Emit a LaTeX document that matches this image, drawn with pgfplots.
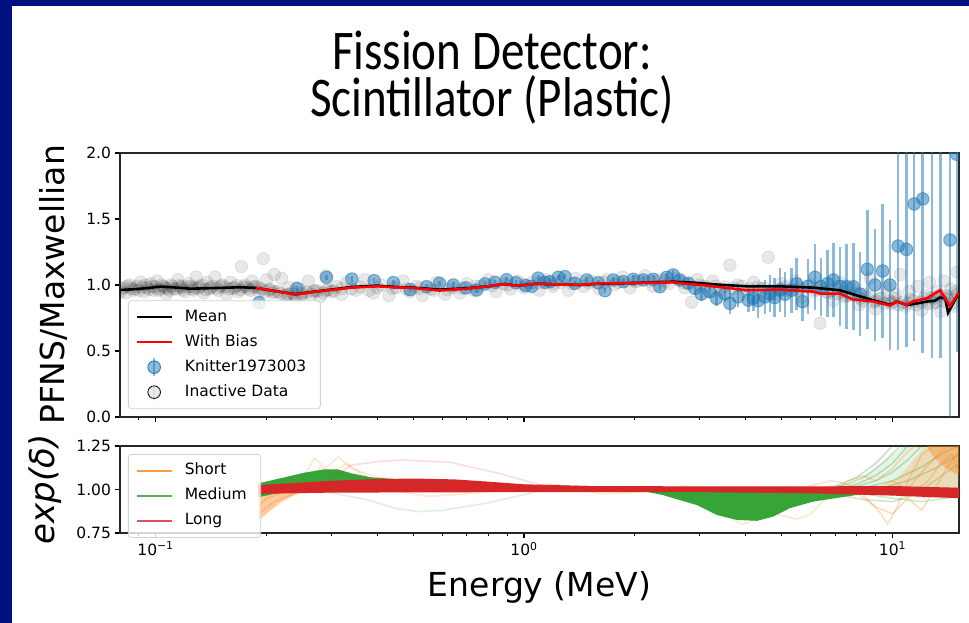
\documentclass[border=0pt]{standalone}
\usepackage{fontspec}
\setmainfont{DejaVu Sans}
\newfontfamily\titlefont{Carlito}
\usepackage{graphicx}
\usepackage{pgfplots}
\usepackage{pgfplotstable}
\pgfplotsset{compat=1.18}

\definecolor{slidebg}{RGB}{0,16,128}
\definecolor{tabblue}{RGB}{31,119,180}
\definecolor{taborange}{RGB}{255,127,14}
\definecolor{tabgreen}{RGB}{44,160,44}
\definecolor{tabred}{RGB}{214,39,40}

% inactive data points
\pgfplotstableread{
x y
0.081 0.97
0.0805 0.95
0.082 0.98
0.083 0.94
0.084 0.99
0.085 1.00
0.086 0.975
0.087 0.96
0.088 0.97
0.089 0.99
0.090 0.96
0.091 1.02
0.092 0.985
0.093 0.95
0.094 1.00
0.095 0.98
0.096 0.965
0.097 1.01
0.098 0.99
0.099 0.96
0.100 0.985
0.101 1.03
0.102 0.96
0.103 0.97
0.104 1.00
0.105 0.99
0.106 0.98
0.107 0.93
0.108 0.975
0.109 0.96
0.110 1.00
0.111 0.99
0.112 0.97
0.114 0.97
0.115 1.04
0.116 0.995
0.117 0.98
0.118 0.99
0.119 0.965
0.120 0.95
0.122 0.985
0.123 1.01
0.125 0.99
0.126 0.97
0.127 0.96
0.128 0.98
0.129 1.06
0.131 0.975
0.132 0.99
0.134 1.00
0.135 0.94
0.137 0.965
0.138 1.02
0.140 0.97
0.141 0.98
0.143 0.99
0.145 1.06
0.147 0.975
0.148 0.96
0.150 0.99
0.152 1.00
0.154 0.985
0.156 0.93
0.158 0.97
0.160 1.02
0.162 0.975
0.164 0.98
0.166 0.995
0.168 0.95
0.170 0.965
0.171 1.14
0.173 0.985
0.175 1.00
0.176 0.985
0.179 0.97
0.181 0.96
0.183 1.03
0.185 0.985
0.187 0.99
0.190 0.98
0.191 0.95
0.194 0.97
0.196 1.20
0.198 0.95
0.200 1.04
0.203 0.96
0.205 0.97
0.208 0.94
0.21 1.08
0.21 0.95
0.215 0.95
0.218 0.935
0.22 1.05
0.225 0.92
0.228 0.925
0.23 0.98
0.23 0.93
0.235 0.94
0.238 0.93
0.24 0.90
0.245 0.97
0.248 0.915
0.25 0.93
0.25 0.94
0.258 0.945
0.26 1.03
0.265 0.93
0.27 0.96
0.27 0.95
0.275 0.955
0.28 0.91
0.285 0.94
0.29 1.07
0.29 0.96
0.295 0.965
0.30 0.95
0.305 0.955
0.31 0.99
0.32 0.93
0.32 0.975
0.33 1.02
0.34 0.97
0.35 0.96
0.36 0.985
0.37 1.04
0.38 0.96
0.39 0.94
0.40 0.98
0.41 1.00
0.43 0.92
0.44 0.975
0.45 0.98
0.47 1.03
0.48 0.97
0.49 0.95
0.51 0.99
0.52 0.975
0.53 0.92
0.56 0.97
0.57 0.96
0.58 1.02
0.61 0.93
0.62 0.965
0.64 0.98
0.67 0.94
0.68 0.975
0.70 1.01
0.73 0.96
0.74 0.99
0.76 0.99
0.80 1.04
0.82 0.995
0.84 0.95
0.88 1.01
0.90 1.00
0.92 0.97
0.96 1.03
1.00 0.98
1.00 1.005
1.05 1.02
1.10 0.96
1.10 1.015
1.15 1.04
1.20 0.99
1.20 1.01
1.26 1.02
1.32 0.96
1.35 1.01
1.38 1.05
1.45 0.99
1.50 1.015
1.52 1.03
1.60 0.97
1.65 1.02
1.68 1.04
1.76 1.00
1.80 1.02
1.85 1.06
1.94 0.98
2.00 1.025
2.03 1.03
2.13 1.07
2.20 1.03
2.24 0.99
2.35 1.04
2.40 1.025
2.47 1.01
2.60 1.05
2.70 1.02
2.73 0.98
2.85 0.87
2.95 1.04
3.00 1.00
3.10 0.99
3.25 1.03
3.30 0.99
3.40 0.96
3.50 0.985
3.62 1.15
3.70 0.975
3.80 1.00
3.90 0.99
4.00 0.95
4.10 0.97
4.20 1.02
4.30 0.985
4.40 0.97
4.50 0.975
4.60 1.21
4.70 0.96
4.80 0.93
5.00 1.01
5.00 0.97
5.10 0.985
5.20 0.96
5.45 1.03
5.50 0.96
5.60 0.975
5.70 0.91
6.00 1.00
6.10 0.95
6.20 0.965
6.36 0.71
6.50 0.97
6.60 0.95
6.70 0.94
6.80 0.955
6.90 0.88
7.10 0.935
7.20 1.02
7.30 0.95
7.40 0.91
7.50 0.92
7.70 0.92
7.80 0.97
8.00 0.935
8.10 0.85
8.20 0.90
8.30 0.88
8.40 0.93
8.60 0.91
8.70 1.05
8.90 0.87
9.00 0.82
9.00 0.88
9.20 0.895
9.30 0.90
9.50 0.86
9.60 0.98
9.80 0.88
9.90 0.86
10.0 0.87
10.1 0.90
10.2 0.93
10.4 0.85
10.5 1.08
10.7 0.87
10.8 0.84
11.0 0.86
11.1 0.95
11.2 0.89
11.4 0.88
11.6 0.85
11.7 0.99
12.0 0.81
12.0 0.87
12.2 0.90
12.3 0.92
12.5 0.86
12.6 1.02
12.8 0.905
12.9 0.86
13.0 0.90
13.1 0.87
13.2 0.95
13.4 0.92
13.5 0.80
13.7 0.88
13.8 1.03
14.0 0.92
14.1 0.89
14.2 0.91
14.4 0.97
14.5 0.86
14.7 0.84
14.9 0.95
15.0 1.10
15.0 0.93
}\inactive

% Knitter1973003 points with errors
\pgfplotstableread{
x y e
0.191 0.866 0.02
0.242 0.975 0.02
0.291 1.058 0.02
0.341 1.045 0.02
0.392 1.033 0.02
0.442 1.018 0.02
0.491 0.965 0.02
0.544 0.987 0.02
0.590 1.013 0.02
0.643 1.000 0.02
0.695 0.978 0.02
0.744 0.962 0.02
0.784 1.008 0.02
0.834 1.020 0.02
0.897 1.040 0.02
0.950 1.017 0.02
1.010 0.995 0.02
1.049 0.990 0.02
1.093 1.052 0.02
1.140 1.020 0.02
1.176 1.025 0.02
1.239 1.058 0.02
1.292 1.063 0.02
1.375 1.013 0.02
1.480 1.038 0.02
1.590 1.017 0.02
1.659 0.957 0.02
1.747 1.038 0.02
1.860 1.025 0.03
1.980 1.043 0.03
2.107 1.038 0.03
2.242 1.043 0.03
2.336 0.987 0.03
2.438 1.058 0.03
2.540 1.076 0.04
2.647 1.038 0.04
2.790 1.013 0.04
2.910 0.975 0.05
3.030 0.932 0.05
3.190 0.949 0.05
3.330 0.899 0.06
3.510 0.932 0.06
3.620 0.861 0.08
3.810 0.911 0.08
4.060 0.886 0.09
4.190 0.900 0.10
4.320 0.881 0.13
4.510 0.910 0.13
4.650 0.932 0.14
4.790 0.905 0.145
4.950 0.962 0.165
5.110 0.930 0.17
5.320 0.960 0.17
5.490 1.008 0.20
5.700 0.874 0.145
5.900 0.990 0.21
6.160 1.058 0.25
6.400 0.987 0.22
6.660 1.010 0.255
6.910 1.038 0.28
7.200 0.990 0.30
7.510 0.987 0.32
7.830 0.987 0.33
8.160 0.932 0.32
8.540 1.119 0.45
8.960 1.000 0.425
9.400 1.106 0.51
9.840 1.000 0.49
10.36 1.295 0.79
10.91 1.270 0.74
11.45 1.614 1.04
12.08 1.652 1.17
12.81 2.400 1.95
13.50 2.500 2.05
14.32 1.341 1.60
14.95 1.990 1.50
}\knitter

\pgfplotstableread{
x y
0.0801 0.962
0.090 0.970
0.1035 0.988
0.115 0.980
0.124 0.972
0.150 0.978
0.170 0.983
0.187 0.978
0.21 0.955
0.24 0.930
0.27 0.950
0.30 0.965
0.34 0.985
0.40 0.995
0.45 0.985
0.50 0.980
0.59 0.965
0.70 0.975
0.80 0.990
0.888 1.008
0.95 0.995
1.0 1.000
1.085 1.010
1.2 1.005
1.42 1.000
1.6 1.010
1.98 1.015
2.54 1.025
3.0 1.015
3.26 1.005
4.03 0.990
4.95 0.990
6.09 0.980
7.2 0.960
7.81 0.930
8.85 0.885
9.85 0.850
10.29 0.875
10.95 0.848
11.9 0.865
12.41 0.875
13.0 0.880
13.46 0.905
13.9 0.900
14.15 0.790
14.6 0.860
15.15 0.945
}\meanline

\pgfplotstableread{
x y
0.187 0.978
0.21 0.955
0.24 0.928
0.27 0.948
0.30 0.962
0.34 0.980
0.40 0.990
0.45 0.982
0.50 0.978
0.59 0.958
0.70 0.972
0.80 0.990
0.888 1.008
0.95 0.995
1.0 1.000
1.085 1.010
1.2 1.005
1.42 1.000
1.6 1.012
1.98 1.015
2.54 1.020
3.26 0.990
4.03 0.960
4.95 0.965
6.09 0.950
6.36 0.935
7.2 0.935
7.81 0.890
8.85 0.876
9.85 0.845
10.29 0.876
10.95 0.850
11.37 0.876
12.41 0.900
13.46 0.960
14.32 0.840
15.15 0.945
}\biasline

\begin{document}
\begin{tikzpicture}
\useasboundingbox (0,0) rectangle (969pt,623pt);
\fill[slidebg] (0,0) rectangle (969pt,623pt);
\fill[white] (12pt,0pt) rectangle (969pt,617pt);
\node[anchor=base, inner sep=0pt] at (492pt,553.7pt) {\scalebox{0.84}[1]{\titlefont\fontsize{56}{60}\selectfont Fission Detector:}};
\node[anchor=base, inner sep=0pt] at (492pt,506.3pt) {\scalebox{0.84}[1]{\titlefont\fontsize{56}{60}\selectfont Scintillator (Plastic)}};

% upper panel
\begin{axis}[at={(120pt,206pt)}, anchor=south west,
  scale only axis, width=839pt, height=264pt,
  xmode=log, xmin=0.0801, xmax=15.15,
  xtick={0.1,1,10}, xticklabels={},
  minor xtick={0.08,0.09,0.2,0.3,0.4,0.5,0.6,0.7,0.8,0.9,2,3,4,5,6,7,8,9},
  tick align=outside, tick pos=left,
  major tick length=5.5pt, minor tick length=3.2pt,
  tick style={black, line width=1.1pt},
  axis line style={black!85, line width=1.2pt},
  tick label style={font=\fontsize{15.5}{18}\selectfont},
  clip marker paths=true,
  ymin=0, ymax=2, ytick={0,0.5,1,1.5,2}, yticklabels={0.0,0.5,1.0,1.5,2.0},
  ylabel={PFNS/Maxwellian},
  every axis y label/.style={at={(axis description cs:-0.0667,0.5)}, rotate=90, anchor=base,
    font=\fontsize{33}{36}\selectfont},
  legend cell align=left,
  legend image code/.code={\draw[#1] (0pt,0pt) -- (35pt,0pt);},
  legend style={at={(0.0095,0.03)}, anchor=south west,
    font=\fontsize{15.5}{18}\selectfont, draw=black!18,
    rounded corners=3pt, fill=white, fill opacity=0.8, text opacity=1,
    inner xsep=7pt, inner ysep=4pt, line width=0.8pt,
    nodes={inner xsep=7pt, inner ysep=4.5pt, text height=12pt, text depth=4pt},
    /tikz/every odd column/.append style={column sep=5pt}},
]
\addplot[forget plot, only marks, mark=*, mark size=6.3pt,
  mark options={fill=black, draw=black, fill opacity=0.09, draw opacity=0.08, line width=0.8pt}]
  table[x=x, y=y] \inactive;
\addplot[forget plot, only marks, mark=*, mark size=6.3pt, color=tabblue,
  mark options={fill=tabblue, draw=tabblue, fill opacity=0.5, draw opacity=0.5, line width=1pt},
  error bars/.cd, y dir=both, y explicit, error mark=none,
  error bar style={line width=2.6pt, tabblue, opacity=0.5}]
  table[x=x, y=y, y error=e] \knitter;
\addplot[forget plot, black, line width=2.6pt] table[x=x, y=y] \meanline;
\addplot[forget plot, red, line width=2.6pt] table[x=x, y=y] \biasline;

\addlegendimage{black, line width=2.6pt}
\addlegendentry{Mean}
\addlegendimage{red, line width=2.6pt}
\addlegendentry{With Bias}
\addlegendimage{legend image code/.code={
  \draw[tabblue, draw opacity=0.5, line width=2.5pt] (17.5pt,-9pt) -- (17.5pt,9pt);
  \fill[tabblue, fill opacity=0.5] (17.5pt,0pt) circle (6.3pt);}}
\addlegendentry{Knitter1973003}
\addlegendimage{legend image code/.code={
  \draw[black, draw opacity=0.05, line width=2.5pt] (17.5pt,-9pt) -- (17.5pt,9pt);
  \fill[black, fill opacity=0.08] (17.5pt,0pt) circle (6.3pt);}}
\addlegendentry{Inactive Data}
\end{axis}

% lower panel
\begin{axis}[at={(120pt,90pt)}, anchor=south west,
  scale only axis, width=839pt, height=87pt,
  xmode=log, xmin=0.0801, xmax=15.15,
  xtick={0.1,1,10},
  xticklabels={10\textsuperscript{−1},10\textsuperscript{0},10\textsuperscript{1}},
  minor xtick={0.08,0.09,0.2,0.3,0.4,0.5,0.6,0.7,0.8,0.9,2,3,4,5,6,7,8,9},
  tick align=outside, tick pos=left,
  major tick length=5.5pt, minor tick length=3.2pt,
  tick style={black, line width=1.1pt},
  axis line style={black!85, line width=1.2pt},
  tick label style={font=\fontsize{15.5}{18}\selectfont},
  ymin=0.75, ymax=1.25, ytick={0.75,1,1.25}, yticklabels={0.75,1.00,1.25},
  ylabel={\textit{exp(δ)}},
  every axis y label/.style={at={(axis description cs:-0.0775,0.5)}, rotate=90, anchor=base,
    font=\fontsize{34}{36}\selectfont},
  xlabel={Energy (MeV)},
  every axis x label/.style={at={(axis description cs:0.5,-0.7356)}, anchor=base,
    font=\fontsize{33}{36}\selectfont},
  legend cell align=left,
  legend image code/.code={\draw[#1] (0pt,0pt) -- (35pt,0pt);},
  legend style={at={(0.0095,0.908)}, anchor=north west,
    font=\fontsize{15.5}{18}\selectfont, draw=black!18,
    rounded corners=3pt, fill=white, fill opacity=0.8, text opacity=1,
    inner xsep=7pt, inner ysep=4pt, line width=0.8pt,
    nodes={inner xsep=7pt, inner ysep=4.5pt, text height=12pt, text depth=4pt},
    /tikz/every odd column/.append style={column sep=5pt}},
]
% Short (orange): low-energy fan as a filled outline
\addplot[forget plot, draw=none, fill=taborange, fill opacity=0.4] coordinates {
  (0.19,1.01) (0.22,1.01) (0.26,1.01)
  (0.26,0.995) (0.24,0.97) (0.22,0.93) (0.205,0.88) (0.19,0.82)};
\addplot[forget plot, taborange, opacity=0.35, line width=1.2pt] coordinates {(0.19,0.86) (0.21,0.93) (0.24,0.98) (0.27,1.0)};
\addplot[forget plot, taborange, opacity=0.35, line width=1.2pt] coordinates {(0.19,0.90) (0.2,0.95) (0.23,0.99) (0.26,1.0)};
\addplot[forget plot, taborange, opacity=0.18, line width=1.6pt] coordinates {(0.24,1.0) (0.27,1.18) (0.29,1.12) (0.313,1.19) (0.34,1.12) (0.4,1.07) (0.5,1.03) (0.6,1.0)};
\addplot[forget plot, taborange, opacity=0.18, line width=1.6pt] coordinates {(0.25,1.0) (0.28,1.13) (0.30,1.09) (0.33,1.15) (0.38,1.06) (0.45,0.99) (0.55,0.96) (0.7,0.975) (0.9,1.0)};
\addplot[forget plot, taborange, opacity=0.18, line width=1.6pt] coordinates {(1.0,1.0) (1.15,1.035) (1.3,1.02) (1.6,0.975) (1.9,0.98) (2.3,1.0) (2.7,1.02) (3.0,1.01)};
\addplot[forget plot, taborange, opacity=0.18, line width=1.6pt] coordinates {(3.0,0.97) (3.5,0.86) (3.9,0.80) (4.3,0.83) (4.8,0.86) (5.5,0.83) (6.0,0.86) (6.6,0.95) (7.5,1.0)};
% Medium (green): main band
\addplot[forget plot, draw=none, fill=tabgreen, fill opacity=0.95] coordinates {
  (0.19,1.035) (0.224,1.07) (0.254,1.097) (0.288,1.116) (0.313,1.115) (0.34,1.093)
  (0.385,1.07) (0.45,1.06) (0.6,1.05) (0.8,1.035) (1.0,1.025) (1.5,1.02) (2.0,1.015)
  (3,1.01) (15.15,1.01)
  (15.15,0.99) (9,0.985) (7.52,0.96) (6.08,0.93) (5.27,0.893) (4.74,0.844) (4.29,0.82)
  (3.78,0.825) (3.34,0.853) (2.95,0.91) (2.38,0.968) (2.11,0.99) (1.0,0.995) (0.3,0.995)
  (0.24,0.99) (0.21,0.975) (0.19,0.955)};
\addplot[forget plot, tabgreen, opacity=0.15, line width=1.6pt] coordinates {(0.276,0.99) (0.32,0.97) (0.377,0.94) (0.45,0.89) (0.516,0.873) (0.6,0.88) (0.784,0.92) (1.0,0.97) (1.09,0.99) (1.3,1.0)};
\addplot[forget plot, draw=none, fill=tabgreen, fill opacity=0.12] coordinates {
  (7,1.01) (8,1.05) (9,1.12) (10,1.2) (10.7,1.25) (15.15,1.25) (15.15,0.99) (7,0.99)};
\addplot[forget plot, tabgreen, opacity=0.3, line width=1.4pt] coordinates {(6,0.99) (7,1.02) (8,1.07) (9,1.15) (10,1.25)};
\addplot[forget plot, tabgreen, opacity=0.3, line width=1.4pt] coordinates {(6.5,1.0) (7.5,1.03) (8.5,1.08) (9.5,1.16) (10.5,1.25)};
\addplot[forget plot, tabgreen, opacity=0.3, line width=1.4pt] coordinates {(7,1.0) (8,1.03) (9,1.08) (10,1.15) (11,1.25)};
\addplot[forget plot, tabgreen, opacity=0.3, line width=1.4pt] coordinates {(7.5,1.0) (9,1.05) (10,1.1) (11,1.17) (12,1.25)};
\addplot[forget plot, tabgreen, opacity=0.3, line width=1.4pt] coordinates {(8,1.0) (10,1.05) (12,1.13) (14,1.22) (15.15,1.25)};
\addplot[forget plot, tabgreen, opacity=0.3, line width=1.4pt] coordinates {(9,1.0) (11,1.05) (13,1.12) (15.15,1.2)};
\addplot[forget plot, tabgreen, opacity=0.25, line width=1.4pt] coordinates {(8,0.98) (10,0.95) (12,0.93) (15.15,0.96)};
\addplot[forget plot, tabgreen, opacity=0.25, line width=1.4pt] coordinates {(7,0.97) (8.5,0.94) (10,0.93) (11.5,0.97) (13,1.05) (15.15,1.15)};
% Short at high energy
\addplot[forget plot, draw=none, fill=taborange, fill opacity=0.2] coordinates {
  (9.5,1.01) (10.5,1.08) (11.5,1.18) (12.3,1.25) (15.15,1.25) (15.15,0.95) (12,0.95) (9.5,0.99)};
\addplot[forget plot, draw=none, fill=taborange, fill opacity=0.35] coordinates {
  (12.5,1.25) (15.15,1.25) (15.15,1.08) (14,1.12) (13,1.18) (12.5,1.23)};
\addplot[forget plot, taborange, opacity=0.25, line width=1.4pt] coordinates {(5.5,1.0) (6.2,1.03) (6.8,1.05) (7.3,1.04) (8,1.01) (8.7,0.93) (9.3,0.86) (9.7,0.8) (10.3,0.9) (11,1.05) (12,1.2) (13,1.25)};
\addplot[forget plot, taborange, opacity=0.25, line width=1.4pt] coordinates {(7,1.0) (7.6,1.05) (8.3,1.08) (9,1.05) (10,1.12) (10.8,1.2) (11.5,1.25)};
\addplot[forget plot, taborange, opacity=0.3, line width=1.4pt] coordinates {(8,0.98) (9,0.9) (10,0.86) (11,0.95) (12,0.88) (13,1.0) (14,1.12) (15.15,1.22)};
\addplot[forget plot, taborange, opacity=0.3, line width=1.4pt] coordinates {(9,1.0) (10,1.05) (11,1.0) (12,1.1) (13,1.18) (14,1.25)};
\addplot[forget plot, taborange, opacity=0.3, line width=1.4pt] coordinates {(9,0.99) (11,0.96) (12.5,1.05) (13.5,1.15) (14.5,1.2) (15.15,1.1)};
% Long (red)
\addplot[forget plot, tabred, opacity=0.15, line width=1.6pt] coordinates {(0.3,1.06) (0.339,1.14) (0.40,1.16) (0.464,1.17) (0.634,1.155) (0.866,1.09) (1.09,1.03) (1.33,1.0) (1.6,0.99)};
\addplot[forget plot, draw=none, fill=tabred] coordinates {
  (0.19,1.025) (0.25,1.04) (0.3,1.05) (0.4,1.06) (0.5,1.063) (0.65,1.058) (0.8,1.045)
  (1.0,1.03) (1.5,1.02) (3,1.018) (6,1.018) (10,1.02) (15.15,1.01)
  (15.15,0.95) (10,0.965) (6,0.978) (3,0.985) (1.0,0.985) (0.3,0.982) (0.19,0.975)};

\addlegendimage{taborange, opacity=0.8, line width=2.4pt}
\addlegendentry{Short}
\addlegendimage{tabgreen, opacity=0.8, line width=2.4pt}
\addlegendentry{Medium}
\addlegendimage{tabred, opacity=0.8, line width=2.4pt}
\addlegendentry{Long}
\end{axis}
\end{tikzpicture}
\end{document}
